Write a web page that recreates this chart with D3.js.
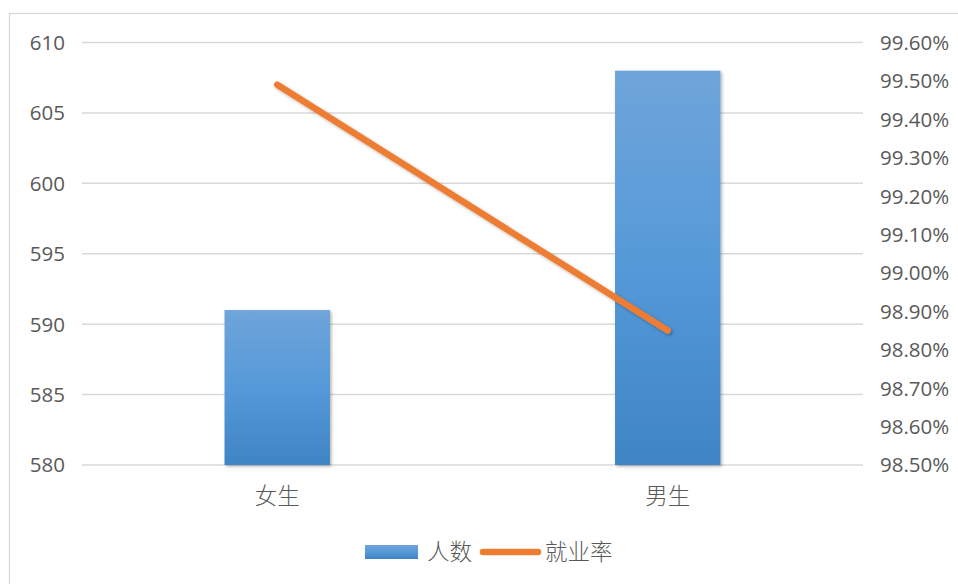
<!DOCTYPE html>
<html>
<head>
<meta charset="utf-8">
<script src="https://cdn.jsdelivr.net/npm/d3@7"></script>
<style>
  body { margin: 0; background: #fff; }
  text { font-family: "Open Sans", "Noto Sans", sans-serif; fill: #595959; }
  .cjk { font-family: "Noto Sans CJK SC", sans-serif; font-weight: 300; }
</style>
</head>
<body>
<div id="chart"></div>
<script>
var categories = ["女生", "男生"];
var counts = [591, 608];
var rates = [0.9949, 0.9885];
var leftTicks = [580, 585, 590, 595, 600, 605, 610];
var rightTicks = [0.985, 0.986, 0.987, 0.988, 0.989, 0.990, 0.991, 0.992, 0.993, 0.994, 0.995, 0.996];
var seriesNames = ["人数", "就业率"];

var W = 958, H = 584;
var margin = {top: 42.5, right: 95, bottom: 119, left: 82};
var width = W - margin.left - margin.right,
    height = H - margin.top - margin.bottom;

var svg = d3.select("#chart").append("svg")
    .attr("width", W)
    .attr("height", H);

var defs = svg.append("defs");
var grad = defs.append("linearGradient")
    .attr("id", "barGrad")
    .attr("x1", 0).attr("y1", 0).attr("x2", 0).attr("y2", 1);
grad.append("stop").attr("offset", "0%").attr("stop-color", "#6fa5da");
grad.append("stop").attr("offset", "50%").attr("stop-color", "#5599d8");
grad.append("stop").attr("offset", "100%").attr("stop-color", "#3f84c5");

var shadow = defs.append("filter").attr("id", "shadow")
    .attr("x", "-20%").attr("y", "-20%").attr("width", "140%").attr("height", "140%");
shadow.append("feDropShadow")
    .attr("dx", 1.5).attr("dy", 1.5).attr("stdDeviation", 1.6)
    .attr("flood-color", "#000").attr("flood-opacity", 0.3);

// chart frame
svg.append("rect")
    .attr("x", 9.5).attr("y", 13.5)
    .attr("width", W).attr("height", H)
    .attr("fill", "none")
    .attr("stroke", "#d9d9d9")
    .attr("stroke-width", 1.3);

var g = svg.append("g")
    .attr("transform", "translate(" + margin.left + "," + margin.top + ")");

var x = d3.scaleBand()
    .domain(categories)
    .range([0, width])
    .paddingInner(0.73)
    .paddingOuter(0.365);

var xc = d3.scalePoint()
    .domain(categories)
    .range([width / 4, width * 3 / 4]);

var y = d3.scaleLinear().domain([580, 610]).range([height, 0]);
var y2 = d3.scaleLinear().domain([0.985, 0.996]).range([height, 0]);

// gridlines
g.append("g")
    .selectAll("line")
    .data(leftTicks)
    .join("line")
    .attr("x1", 0).attr("x2", width)
    .attr("y1", d => y(d)).attr("y2", d => y(d))
    .attr("stroke", "#d9d9d9")
    .attr("stroke-width", 1.5);

// left axis
var yAxis = g.append("g")
    .call(d3.axisLeft(y).tickValues(leftTicks).tickSize(0).tickPadding(17));
yAxis.select(".domain").remove();
yAxis.selectAll("text").style("font-size", "20.5px").attr("fill", "#595959").attr("dy", "0.34em");

// right axis
var yAxis2 = g.append("g")
    .attr("transform", "translate(" + width + ",0)")
    .call(d3.axisRight(y2).tickValues(rightTicks).tickSize(0).tickPadding(17)
      .tickFormat(d3.format(".2%")));
yAxis2.select(".domain").remove();
yAxis2.selectAll("text").style("font-size", "20.5px").attr("fill", "#595959").attr("dy", "0.34em");

// bars
g.append("g")
    .selectAll("rect")
    .data(counts)
    .join("rect")
    .attr("x", (d, i) => x(categories[i]))
    .attr("y", d => y(d))
    .attr("width", x.bandwidth())
    .attr("height", d => height - y(d))
    .attr("fill", "url(#barGrad)")
    .attr("filter", "url(#shadow)");

// category labels
g.append("g")
    .selectAll("text")
    .data(categories)
    .join("text")
    .attr("class", "cjk")
    .attr("x", d => xc(d))
    .attr("y", height + 39)
    .attr("text-anchor", "middle")
    .style("font-size", "22.5px")
    .text(d => d);

// rate line
var line = d3.line()
    .x((d, i) => xc(categories[i]))
    .y(d => y2(d));

g.append("path")
    .datum(rates)
    .attr("d", line)
    .attr("fill", "none")
    .attr("stroke", "#ed7d31")
    .attr("stroke-width", 6.5)
    .attr("stroke-linecap", "round")
    .attr("filter", "url(#shadow)");

// legend
var lg = svg.append("g").attr("transform", "translate(365,552)");
lg.append("rect")
    .attr("x", 0).attr("y", -7)
    .attr("width", 53).attr("height", 14)
    .attr("fill", "url(#barGrad)");
lg.append("text")
    .attr("class", "cjk")
    .attr("x", 62).attr("y", 0).attr("dy", "0.36em")
    .style("font-size", "22.5px")
    .text(seriesNames[0]);
lg.append("line")
    .attr("x1", 118).attr("x2", 173)
    .attr("y1", 0).attr("y2", 0)
    .attr("stroke", "#ed7d31")
    .attr("stroke-width", 6.5)
    .attr("stroke-linecap", "round");
lg.append("text")
    .attr("class", "cjk")
    .attr("x", 180).attr("y", 0).attr("dy", "0.36em")
    .style("font-size", "22.5px")
    .text(seriesNames[1]);
</script>
</body>
</html>
